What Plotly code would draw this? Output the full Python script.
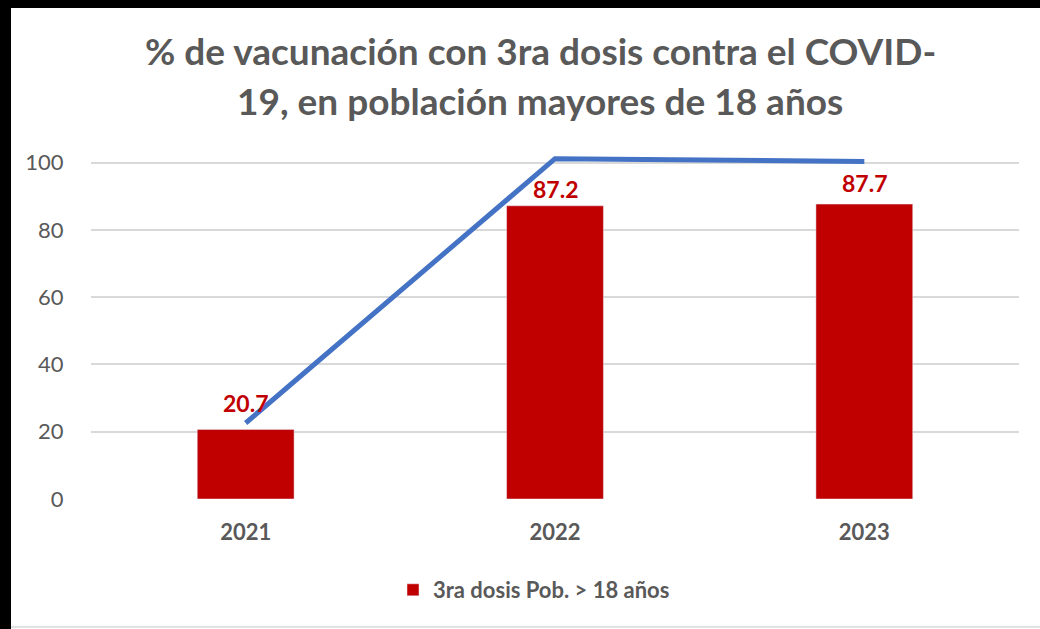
import plotly.graph_objects as go

years = ["2021", "2022", "2023"]
dosis3 = [20.7, 87.2, 87.7]
trend = [22.6, 101.2, 100.4]
series_name = "3ra dosis Pob. > 18 años"
title_lines = ["% de vacunación con 3ra dosis contra el COVID-", "19, en población mayores de 18 años"]
y_ticks = [0, 20, 40, 60, 80, 100]

W, H = 1040, 629
L, R, T, B = 91, 21, 156, 130
pw, ph = W - L - R, H - T - B

def px(xp):
    return (xp - L) / pw

def py(yp):
    return (H - B - yp) / ph

FONT = "Lato"
GRAY = "#595959"

fig = go.Figure()
fig.add_trace(go.Bar(
    x=years, y=dosis3, name=series_name, marker_color="#C00000",
    showlegend=True,
))
fig.add_trace(go.Scatter(
    x=years, y=trend, mode="lines", line=dict(color="#4472C4", width=5),
    showlegend=False, cliponaxis=False, hoverinfo="skip",
))

annotations = []
label_shift = [26, 17, 21]
for i, v in enumerate(dosis3):
    annotations.append(dict(
        x=i, y=v, xref="x", yref="y", text=f"<b>{v}</b>", showarrow=False,
        yanchor="middle", yshift=label_shift[i],
        font=dict(family=FONT, size=23, color="#C00000"),
    ))
for i, line in enumerate(title_lines):
    annotations.append(dict(
        x=px(540), y=py(50 + 50 * i), xref="paper", yref="paper",
        text=f"<b>{line}</b>", showarrow=False, xanchor="center", yanchor="middle",
        font=dict(family=FONT, size=37, color=GRAY),
    ))

shapes = [
    dict(type="rect", xref="paper", yref="paper", x0=px(0), x1=px(11), y0=py(629), y1=py(0),
         fillcolor="black", line_width=0, layer="above"),
    dict(type="rect", xref="paper", yref="paper", x0=px(0), x1=px(1040), y0=py(8), y1=py(0),
         fillcolor="black", line_width=0, layer="above"),
    dict(type="line", xref="paper", yref="paper", x0=px(11), x1=px(1040), y0=py(627), y1=py(627),
         line=dict(color="#D9D9D9", width=1.5)),
]

fig.update_layout(
    width=W, height=H,
    margin=dict(l=L, r=R, t=T, b=B, pad=0),
    paper_bgcolor="white", plot_bgcolor="white",
    bargap=0.687,
    annotations=annotations,
    shapes=shapes,
    legend=dict(orientation="h", x=px(534), xanchor="center", y=py(590), yanchor="middle",
                font=dict(family=FONT, size=22, color=GRAY, weight="bold")),
    xaxis=dict(
        type="category", range=[-0.5, 2.5], autorange=False,
        showgrid=False, zeroline=False, showline=False,
        ticks="outside", ticklen=14, tickcolor="rgba(0,0,0,0)",
        tickfont=dict(family=FONT, size=22, color=GRAY, weight="bold"),
    ),
    yaxis=dict(
        range=[0, 102], autorange=False, tickvals=y_ticks, showgrid=True, gridcolor="#D9D9D9", gridwidth=2,
        zeroline=False, showline=False,
        ticks="outside", ticklen=22, tickcolor="rgba(0,0,0,0)",
        tickfont=dict(family=FONT, size=22, color=GRAY),
    ),
)

fig.write_html("out.html", config={"displayModeBar": False},
               post_script="document.body.style.margin='0';")
